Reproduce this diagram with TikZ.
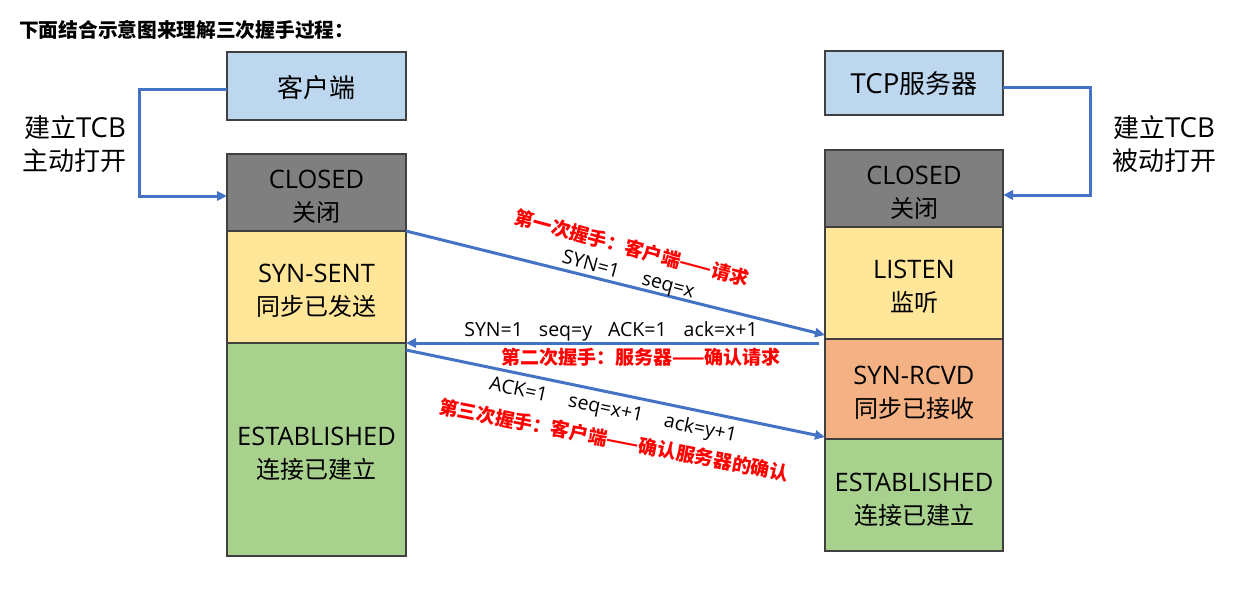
\documentclass[tikz,border=0pt]{standalone}
\usepackage{fontspec}
\setmainfont{Noto Sans CJK SC}
\newfontfamily\lat{Open Sans}[Scale=1.06]
\newfontfamily\latmsg{Open Sans}
\usetikzlibrary{arrows.meta}
\definecolor{bordergray}{HTML}{404040}
\definecolor{arrowblue}{HTML}{4472C4}
\definecolor{labred}{HTML}{FF0000}
\definecolor{lightblue}{HTML}{BDD7EE}
\definecolor{closedgray}{HTML}{7F7F7F}
\definecolor{softyellow}{HTML}{FFE699}
\definecolor{softgreen}{HTML}{A9D18E}
\definecolor{softorange}{HTML}{F4B183}
\tikzset{
  box/.style={draw=bordergray, line width=1.3pt, inner sep=0pt, outer sep=0pt,
    minimum width=179pt},
  boxtext/.style={align=center, inner sep=0pt, font=\fontsize{24}{33}\selectfont},
  flow/.style={draw=arrowblue, line width=3pt, -{Triangle[length=10pt,width=9pt]}},
  redlab/.style={text=labred, inner sep=0pt, font=\bfseries\fontsize{19}{22}\selectfont},
  msg/.style={inner sep=0pt, font=\latmsg\fontsize{19.5}{22}\selectfont},
  side/.style={align=center, inner sep=0pt, font=\fontsize{26}{33}\selectfont}
}
\begin{document}
\begin{tikzpicture}[x=1pt,y=-1pt]
\useasboundingbox[fill=white] (0,0) rectangle (1240,613);

\node[anchor=west, inner sep=0pt, font=\bfseries\fontsize{19.7}{22}\selectfont] (title) at (19,30) {下面结合示意图来理解三次握手过程：};

% client column
\node[box, fill=lightblue, minimum height=68pt] (client) at (316.5,86) {};
\node[box, fill=closedgray, minimum height=77pt] (cclosed) at (316.5,192.5) {};
\node[box, fill=softyellow, minimum height=112pt] (csent) at (316.5,287) {};
\node[box, fill=softgreen, minimum height=213pt] (cest) at (316.5,449.5) {};
\node[boxtext, font=\fontsize{26}{30}\selectfont] (client-t) at ([yshift=-2pt]client.center) {客户端};
\node[boxtext] (cclosed-t) at ([yshift=-4pt]cclosed.center) {{\lat CLOSED}\\关闭};
\node[boxtext] (csent-t) at ([yshift=-3.5pt]csent.center) {{\lat SYN-SENT}\\同步已发送};
\node[boxtext] (cest-t) at ([yshift=-4.5pt]cest.center) {{\lat ESTABLISHED}\\连接已建立};

% server column
\node[box, fill=lightblue, minimum height=64pt, minimum width=178pt] (server) at (914,83) {};
\node[box, fill=closedgray, minimum height=77pt, minimum width=178pt] (sclosed) at (914,188.5) {};
\node[box, fill=softyellow, minimum height=112pt, minimum width=178pt] (slisten) at (914,283) {};
\node[box, fill=softorange, minimum height=100pt, minimum width=178pt] (srcvd) at (914,389) {};
\node[box, fill=softgreen, minimum height=112pt, minimum width=178pt] (sest) at (914,495) {};
\node[boxtext, font=\fontsize{26}{30}\selectfont] (server-t) at ([yshift=-1pt]server.center) {{\lat TCP}服务器};
\node[boxtext] (sclosed-t) at ([yshift=-4pt]sclosed.center) {{\lat CLOSED}\\关闭};
\node[boxtext] (slisten-t) at ([yshift=-3.5pt]slisten.center) {{\lat LISTEN}\\监听};
\node[boxtext] (srcvd-t) at ([yshift=-4pt]srcvd.center) {{\lat SYN-RCVD}\\同步已接收};
\node[boxtext] (sest-t) at ([yshift=-5pt]sest.center) {{\lat ESTABLISHED}\\连接已建立};

% side labels
\node[side] (lside) at (75,144) {建立{\lat TCB}\\主动打开};
\node[side] (rside) at (1164,144) {建立{\lat TCB}\\被动打开};

% TCB connectors
\coordinate (lcorner1) at (139,89);
\coordinate (lcorner2) at (139,196);
\draw[flow] ([yshift=-3pt]client.west) -- (lcorner1) -- (lcorner2) -- ([yshift=-3.5pt]cclosed.west);
\coordinate (rcorner1) at (1090,87);
\coordinate (rcorner2) at (1090,195);
\draw[flow] ([yshift=-4pt]server.east) -- (rcorner1) -- (rcorner2) -- ([yshift=-6.5pt]sclosed.east);

% handshake arrows
\draw[flow] (csent.north east) -- ([yshift=4pt]slisten.south west);
\draw[flow] ([xshift=-6pt,yshift=-4pt]srcvd.north west) -- (cest.north east);
\draw[flow] ([yshift=-7pt]cest.north east) -- ([yshift=2pt]sest.north west);

% labels
\node[redlab, rotate=-15] (r1) at (632,248) {第一次握手：客户端——请求};
\node[msg, rotate=-15] (m1) at (628,276) {SYN=1\hspace{24pt}seq=x};
\node[msg] (m2) at (611,331) {SYN=1\hspace{16pt}seq=y\hspace{16pt}ACK=1\hspace{17pt}ack=x+1};
\node[redlab] (r2) at (641,357) {第二次握手：服务器——确认请求};
\node[msg, rotate=-12] (m3) at (613,411) {ACK=1\hspace{22pt}seq=x+1\hspace{22pt}ack=y+1};
\node[redlab, rotate=-11] (r3) at (614,440) {第三次握手：客户端——确认服务器的确认};
\end{tikzpicture}
\end{document}
